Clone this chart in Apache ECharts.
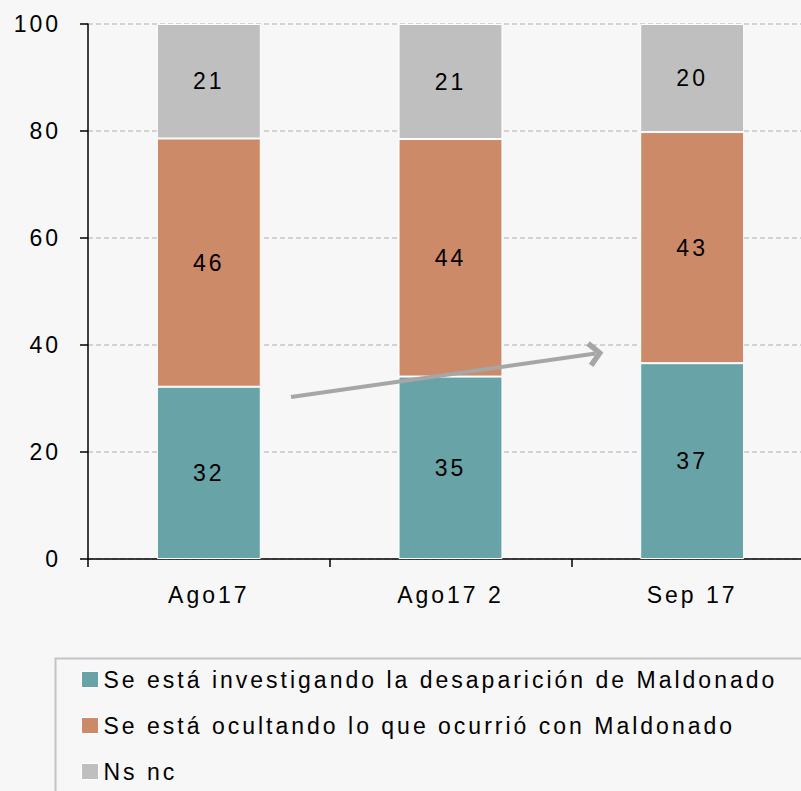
<!DOCTYPE html>
<html>
<head>
<meta charset="utf-8">
<script src="https://cdn.jsdelivr.net/npm/echarts@6/dist/echarts.min.js"></script>
<style>
  html, body { margin: 0; padding: 0; background: #f7f7f7; }
  #chart { width: 801px; height: 791px; }
  /* espaciado de letras como en el original */
  #chart text { letter-spacing: 3px; }
</style>
</head>
<body>
<div id="chart"></div>
<script>
// categorías y valores
const categories = ["Ago17", "Ago17 2", "Sep 17"];
const seriesNames = [
  "Se está investigando la desaparición de Maldonado",
  "Se está ocultando lo que ocurrió con Maldonado",
  "Ns nc"
];
// alturas de cada tramo (porcentaje)
const investigando = [32.2, 34.1, 36.6];
const ocultando = [46.4, 44.4, 43.2];
const nsnc = [21.4, 21.5, 20.2];
// etiquetas impresas en las barras
const investigandoLabels = [32, 35, 37];
const ocultandoLabels = [46, 44, 43];
const nsncLabels = [21, 21, 20];
const yTicks = [0, 20, 40, 60, 80, 100];
// flecha de tendencia (posición de categoría, valor)
const arrowFrom = [0.34, 30.3];
const arrowTo = [1.6, 38.4];

const colors = ["#68a3a7", "#cd8a68", "#bfbfbf"];
const font = "Liberation Sans, Arial, sans-serif";
const fs = 23;

const chart = echarts.init(document.getElementById("chart"), null, { renderer: "svg" });

function barSeries(name, values, labels, color) {
  return {
    name: name,
    type: "bar",
    stack: "total",
    barWidth: "43%",
    data: values,
    itemStyle: { color: color, borderColor: "#ffffff", borderWidth: 1 },
    label: {
      show: true,
      position: "inside",
      color: "#000",
      fontSize: fs,
      fontFamily: font,
      formatter: (p) => String(labels[p.dataIndex])
    },
    emphasis: { disabled: true }
  };
}

const series = [
  barSeries(seriesNames[0], investigando, investigandoLabels, colors[0]),
  barSeries(seriesNames[1], ocultando, ocultandoLabels, colors[1]),
  barSeries(seriesNames[2], nsnc, nsncLabels, colors[2]),
  {
    // serie vacía solo para la flecha, sobre un eje de valores oculto
    type: "line",
    xAxisIndex: 1,
    data: [],
    markLine: {
      silent: true,
      animation: false,
      symbol: ["none", "path://M10,0 L20,9 L17,12 L10,5.5 L3,12 L0,9 Z"],
      symbolSize: [26, 16],
      label: { show: false },
      lineStyle: { color: "#a6a6a6", width: 4, type: "solid" },
      emphasis: { disabled: true },
      data: [[{ coord: arrowFrom }, { coord: arrowTo }]]
    }
  }
];

const option = {
  backgroundColor: "#f7f7f7",
  animation: false,
  grid: { left: 88, top: 24, width: 725, bottom: 232, containLabel: false, outerBoundsMode: "none" },
  xAxis: [{
    type: "category",
    data: categories,
    axisLine: { lineStyle: { color: "#000", width: 1.5 } },
    axisTick: { show: true, length: 8, lineStyle: { color: "#000", width: 1.5 } },
    axisLabel: { color: "#000", fontSize: fs, fontFamily: font, margin: 24 }
  }, {
    type: "value",
    min: -0.5,
    max: 2.5,
    show: false
  }],
  yAxis: {
    type: "value",
    min: yTicks[0],
    max: yTicks[yTicks.length - 1],
    interval: 20,
    axisLine: { show: true, onZero: false, lineStyle: { color: "#000", width: 1.5 } },
    axisTick: { show: true, length: 8, lineStyle: { color: "#000", width: 1.5 } },
    axisLabel: { color: "#000", fontSize: fs, fontFamily: font, margin: 27 },
    splitLine: { lineStyle: { color: "#c8c8c8", width: 1.5, type: [5, 3] } }
  },
  legend: {
    orient: "vertical",
    left: 81,
    top: 668,
    padding: 0,
    itemWidth: 17,
    itemHeight: 16,
    itemGap: 23,
    icon: "rect",
    selectedMode: false,
    itemStyle: { borderColor: "#ffffff", borderWidth: 1 },
    textStyle: { color: "#000", fontSize: fs, lineHeight: 23, fontFamily: font },
    data: seriesNames
  },
  graphic: [{
    type: "rect",
    left: 53,
    top: 656,
    silent: true,
    shape: { width: 800, height: 200 },
    style: { fill: "none", stroke: "#c4c4c4", lineWidth: 2 }
  }],
  series: series
};

chart.setOption(option);
</script>
</body>
</html>
